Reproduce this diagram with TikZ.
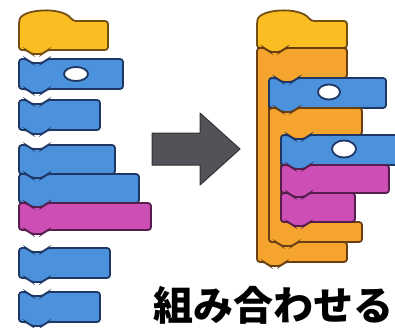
\documentclass[tikz,border=0pt]{standalone}
\usepackage{fontspec}
\newfontfamily\jpfont{Noto Sans CJK JP}
\usepackage{tikz}
\definecolor{stackblue}{RGB}{76, 145, 220}
\definecolor{blueedge}{RGB}{30, 55, 100}
\definecolor{hatyellow}{RGB}{250, 190, 35}
\definecolor{hatedge}{RGB}{115, 78, 18}
\definecolor{looporange}{RGB}{245, 165, 45}
\definecolor{loopedge}{RGB}{105, 62, 18}
\definecolor{pinkpen}{RGB}{205, 78, 180}
\definecolor{pinkedge}{RGB}{85, 30, 75}
\definecolor{arrowgray}{RGB}{82, 82, 88}

\tikzset{
  blueblock/.style={fill=stackblue, draw=blueedge, line width=1.8pt, rounded corners=3pt},
  pinkblock/.style={fill=pinkpen, draw=pinkedge, line width=1.8pt, rounded corners=3pt},
  hatblock/.style={fill=hatyellow, draw=hatedge, line width=1.8pt, rounded corners=3pt},
  loopblock/.style={fill=looporange, draw=loopedge, line width=1.8pt, rounded corners=3pt},
  slot/.style={fill=white, draw=blueedge, line width=1.8pt},
}

% stack block: style, left, top, width, height
\newcommand{\stackblock}[5]{%
  \draw[#1] (#2,#3) -- ++(8,0) -- ++(4,4) -- ++(12,0) -- ++(4,-4)
    -- ++({#4-28},0) -- ++(0,#5) -- ++({28-#4},0)
    -- ++(-4,4) -- ++(-12,0) -- ++(-4,-4) -- ++(-8,0) -- cycle;}

% C block: style, left, top, width, mouth top, mouth bottom, bottom
\newcommand{\cblock}[7]{%
  \draw[#1] (#2,#3) -- ++(8,0) -- ++(4,4) -- ++(12,0) -- ++(4,-4)
    -- ({#2+#4},#3) -- ({#2+#4},#5) -- ({#2+40},#5)
    -- ++(-4,4) -- ++(-12,0) -- ++(-4,-4) -- ({#2+12},#5)
    -- ({#2+12},#6) -- ({#2+#4},#6) -- ({#2+#4},#7) -- ({#2+28},#7)
    -- ++(-4,4) -- ++(-12,0) -- ++(-4,-4) -- (#2,#7) -- cycle;}

\begin{document}
\begin{tikzpicture}[x=1pt, y=-1pt]
  \useasboundingbox (0,0) rectangle (395,327);
  \fill[white] (0,0) rectangle (395,327);
  \clip (0,0) rectangle (395,327);

  % loose blocks
  \draw[hatblock] (19,50) -- (19,23) .. controls (21,9) and (62,6) .. (73,21)
    -- (108,21) -- (108,50) -- (47,50) -- (43,54) -- (31,54) -- (27,50) -- cycle;
  \stackblock{blueblock}{19}{59}{104}{30}
  \draw[slot] (76,74) ellipse [x radius=12pt, y radius=7pt];
  \stackblock{blueblock}{19}{100}{81}{30}
  \stackblock{blueblock}{19}{145}{96}{29}
  \stackblock{blueblock}{19}{174}{120}{29}
  \stackblock{pinkblock}{19}{203}{132}{27}
  \stackblock{blueblock}{19}{248}{91}{30}
  \stackblock{blueblock}{19}{292}{81}{30}

  % arrow
  \draw[fill=arrowgray, draw=black!80, line width=1pt, line join=round]
    (152,133) -- (200,133) -- (200,113) -- (240,149) -- (200,185)
    -- (200,165) -- (152,165) -- cycle;

  % assembled script
  \draw[hatblock] (257,48) -- (257,23) .. controls (259,9) and (300,6) .. (311,21)
    -- (347,21) -- (347,48) -- (285,48) -- (281,52) -- (269,52) -- (265,48) -- cycle;
  \cblock{loopblock}{257}{48}{90}{78}{242}{262}
  \stackblock{blueblock}{269}{78}{117}{30}
  \draw[slot] (329,92) ellipse [x radius=11pt, y radius=7.5pt];
  \cblock{loopblock}{269}{108}{93}{135}{222}{242}
  \stackblock{blueblock}{281}{135}{130}{30}
  \draw[slot] (344,149) ellipse [x radius=12pt, y radius=8.5pt];
  \stackblock{pinkblock}{281}{165}{108}{28}
  \stackblock{pinkblock}{281}{193}{74}{29}

  \node[font=\jpfont\bfseries\fontsize{40}{40}\selectfont, inner sep=0pt]
    (caption) at (273,305) {組み合わせる};
\end{tikzpicture}
\end{document}
